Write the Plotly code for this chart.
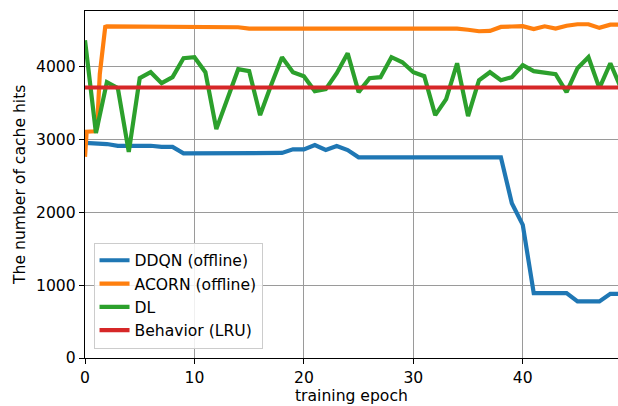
import plotly.graph_objects as go

epochs = list(range(50))

ddqn = [2957, 2950, 2940, 2916, 2916, 2916, 2916, 2900, 2900, 2812,
        2812, 2812, 2812, 2812, 2812, 2812, 2812, 2815, 2818, 2867,
        2867, 2926, 2858, 2912, 2857] + [2757] * 14 + [2126, 1829] + [892] * 4 + [777] * 3 + [882] * 2

acorn_x = [0, 0.15, 0.9, 1.1, 1.35, 1.85] + list(range(2, 50))
acorn = [2765, 3110, 3115, 3160, 3900, 4550] + [4558, 4558, 4552] + [4545] * 10 + [4527] * 20 + \
        [4510, 4490, 4495, 4549, 4555, 4560, 4520, 4558, 4527, 4565, 4586, 4586, 4536, 4580, 4580]

dl = [4366, 3090, 3790, 3708, 2831, 3845, 3927, 3776, 3859, 4119,
      4133, 3927, 3145, 3543, 3968, 3941, 3337, 3749, 4133, 3927,
      3872, 3666, 3694, 3914, 4188, 3653, 3845, 3859, 4133, 4064,
      3927, 3872, 3337, 3557, 4050, 3323, 3817, 3927, 3817, 3859,
      4023, 3941, 3914, 3900, 3653, 3982, 4133, 3708, 4050, 3700]

lru = [3717] * 50

x_ticks = [0, 10, 20, 30, 40]
y_ticks = [0, 1000, 2000, 3000, 4000]

names = ["DDQN (offline)", "ACORN (offline)", "DL", "Behavior (LRU)"]
colors = ["#1f77b4", "#ff7f0e", "#2ca02c", "#d62728"]

FONT = "DejaVu Sans"
FS = 15.6
fig = go.Figure()
series = [(epochs, ddqn), (acorn_x, acorn), (epochs, dl), (epochs, lru)]
for i, (xs, ys) in enumerate(series):
    fig.add_trace(go.Scatter(x=xs, y=ys, mode="lines", name=names[i],
                             line=dict(color=colors[i], width=4.2)))

axis_common = dict(
    showline=True, linecolor="black", linewidth=1.3,
    ticks="outside", ticklen=5, tickwidth=1.3, tickcolor="black",
    showgrid=True, gridcolor="#9a9a9a", gridwidth=1.2,
    zeroline=False,
    tickfont=dict(family=FONT, size=FS, color="black"),
)

fig.update_layout(
    width=618, height=406,
    margin=dict(l=85, r=0, t=11, b=48),
    paper_bgcolor="white", plot_bgcolor="white",
    font=dict(family=FONT, size=FS, color="black"),
    xaxis=dict(range=[0, 48.7], tickvals=x_ticks, mirror=True, **axis_common),
    yaxis=dict(range=[0, 4768], tickvals=y_ticks, **axis_common),
    legend=dict(
        x=0.016, y=0.027, xanchor="left", yanchor="bottom",
        bgcolor="rgba(255,255,255,0.85)", bordercolor="#cccccc", borderwidth=1,
        font=dict(family=FONT, size=FS, color="black"),
    ),
    showlegend=True,
    annotations=[
        dict(text="training epoch", xref="paper", yref="paper", x=0.5, y=-0.078,
             xanchor="center", yanchor="top", showarrow=False,
             font=dict(family=FONT, size=FS, color="black")),
        dict(text="The number of cache hits", xref="paper", yref="paper", x=-0.123, y=0.5,
             xanchor="center", yanchor="middle", textangle=-90, showarrow=False,
             font=dict(family=FONT, size=FS, color="black")),
    ],
)

fig.write_html("out.html")
